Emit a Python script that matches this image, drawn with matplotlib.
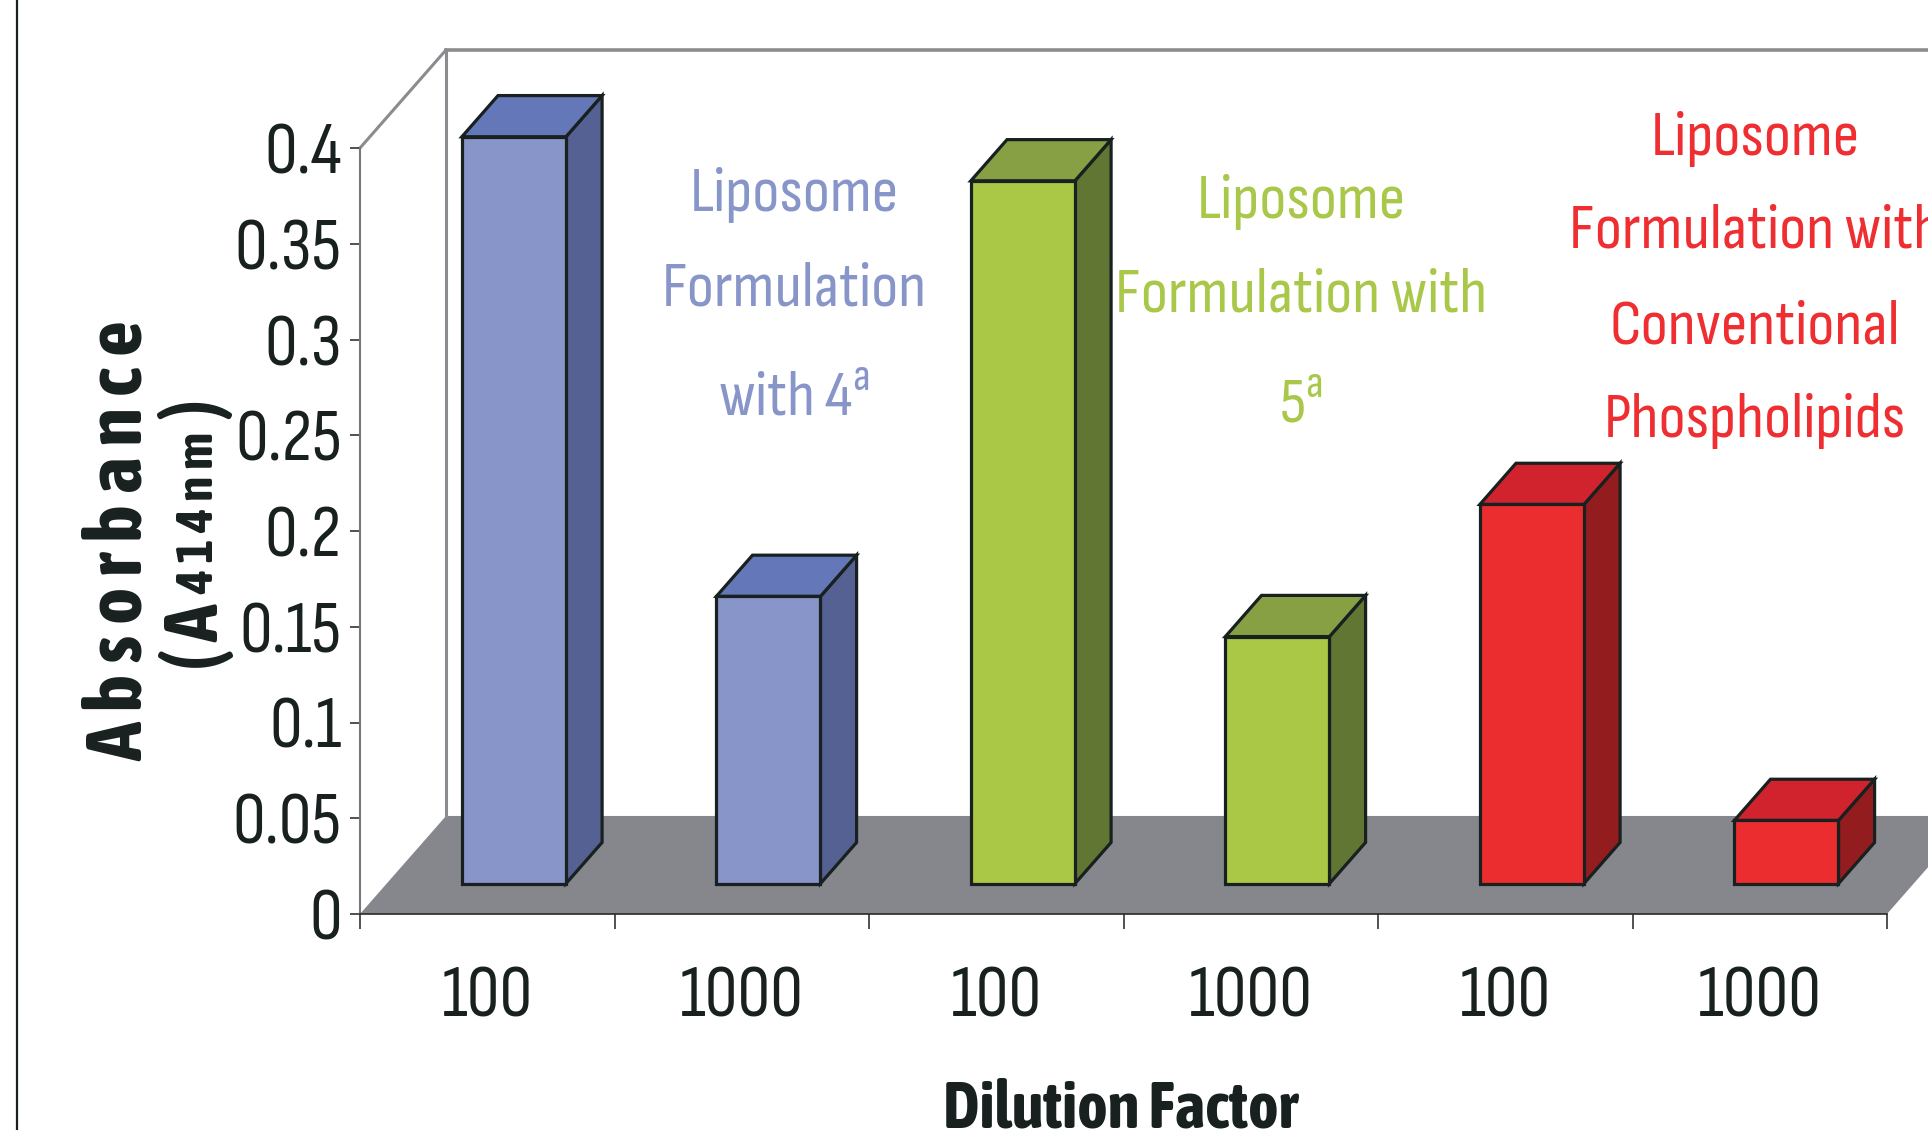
# Absorbance vs dilution factor, 3D-style bar chart (Excel look)

import numpy as np
import matplotlib
matplotlib.use('Agg')
import matplotlib.pyplot as plt
from matplotlib.patches import Polygon
from matplotlib.lines import Line2D

REG = ['Sofia Sans Condensed', 'Roboto Condensed', 'DejaVu Sans']
BOLD = ['Asap Condensed', 'Roboto Condensed', 'DejaVu Sans']
plt.rcParams['font.family'] = REG
plt.rcParams['mathtext.fontset'] = 'custom'
plt.rcParams['mathtext.rm'] = 'Sofia Sans Condensed'

# data
dilution = ['100', '1000', '100', '1000', '100', '1000']
absorbance = [0.39, 0.15, 0.367, 0.129, 0.198, 0.033]
yticks = [0, 0.05, 0.1, 0.15, 0.2, 0.25, 0.3, 0.35, 0.4]
ytick_labels = ['0', '0.05', '0.1', '0.15', '0.2', '0.25', '0.3', '0.35', '0.4']

front_colors = ['#8795c9', '#8795c9', '#aac846', '#aac846', '#ec2d30', '#ec2d30']
top_colors = ['#6377b9', '#6377b9', '#87a044', '#87a044', '#d1232e', '#d1232e']
side_colors = ['#556193', '#556193', '#627634', '#627634', '#931c1f', '#931c1f']

blue_txt = ['Liposome', 'Formulation', r'with 4$^{\mathrm{a}}$']
green_txt = ['Liposome', 'Formulation with', r'5$^{\mathrm{a}}$']
red_txt = ['Liposome', 'Formulation with', 'Conventional', 'Phospholipids']

W, H = 1928, 1130
EDGE = '#182020'
WALL = '#8c8c90'


def fx(x):
    return x / W


def fy(y):
    return 1 - y / H


fig = plt.figure(figsize=(W / 100, H / 100), dpi=100)
ax = fig.add_axes([fx(360), fy(914), (1887 - 360) / W, (914 - 148) / H])
n = len(dilution)
ax.set_xlim(0, n)
ax.set_ylim(0, 0.4)

# depth of the 3D box (data units) and bar placement inside it
dx, dy = 0.338, 0.0512
f0, f1 = 0.31, 0.73
bar_w = 0.409

# floor and walls
ax.add_patch(Polygon([(0, 0), (n, 0), (n + dx, dy), (dx, dy)], closed=True,
                     facecolor='#86878c', edgecolor='none', zorder=1, clip_on=False))
ax.plot([0, dx], [0.4, 0.4 + dy], color=WALL, lw=2.2, zorder=1, clip_on=False)
ax.plot([dx, dx], [dy, 0.4 + dy], color=WALL, lw=2.2, zorder=1, clip_on=False)
ax.plot([dx, n + dx], [0.4 + dy, 0.4 + dy], color=WALL, lw=2.6, zorder=1, clip_on=False)

# bars
x = np.arange(n) + 0.5
xf = x + f0 * dx
ax.bar(xf, absorbance, width=bar_w, bottom=f0 * dy, color=front_colors,
       edgecolor=EDGE, linewidth=2.3, zorder=4, clip_on=False)
ddx, ddy = (f1 - f0) * dx, (f1 - f0) * dy
for i, v in enumerate(absorbance):
    l, r = xf[i] - bar_w / 2, xf[i] + bar_w / 2
    b = f0 * dy
    t = b + v
    ax.add_patch(Polygon([(r, b), (r + ddx, b + ddy), (r + ddx, t + ddy), (r, t)],
                         closed=True, facecolor=side_colors[i], edgecolor=EDGE,
                         lw=2.3, joinstyle='miter', zorder=3, clip_on=False))
    ax.add_patch(Polygon([(l, t), (r, t), (r + ddx, t + ddy), (l + ddx, t + ddy)],
                         closed=True, facecolor=top_colors[i], edgecolor=EDGE,
                         lw=2.3, joinstyle='miter', zorder=3, clip_on=False))

# axes
for s in ['top', 'right']:
    ax.spines[s].set_visible(False)
ax.spines['left'].set_color('#77777b')
ax.spines['left'].set_linewidth(1.5)
ax.spines['bottom'].set_color('#2a2a2a')
ax.spines['bottom'].set_linewidth(1.2)
ax.patch.set_alpha(0)

ax.set_yticks(yticks)
ax.set_yticklabels(ytick_labels)
ax.tick_params(axis='y', length=7, width=1.2, color='#333333', pad=6,
               labelsize=53, labelcolor='#182020')

ax.set_xticks(range(n + 1))
ax.set_xticklabels([])
ax.set_xticks(x, minor=True)
ax.set_xticklabels(dilution, minor=True)
ax.tick_params(axis='x', which='major', length=11, width=1.2, color='#333333')
ax.tick_params(axis='x', which='minor', length=0, pad=74, labelsize=53,
               labelcolor='#182020')
for lbl in ax.get_xticklabels(minor=True):
    lbl.set_va('baseline')

# group labels
for txt, cx, ys, c in [(blue_txt, 794, [211, 305, 415], '#8795c9'),
                       (green_txt, 1301, [218, 312, 422], '#a9c84a'),
                       (red_txt, 1755, [155, 248, 343, 437], '#ee2e31')]:
    for s, y in zip(txt, ys):
        fig.text(fx(cx), fy(y), s, color=c, fontsize=47, ha='center', va='baseline')

# axis titles
fig.text(fx(120), fy(541), 'A b s o r b a n c e', rotation=90, fontsize=57,
         family=BOLD, fontweight='bold', color='#182020', ha='center', va='center')
fig.text(fx(197), fy(637), '( A', rotation=90, fontsize=55,
         family=BOLD, fontweight='bold', color='#182020', ha='center', va='center')
fig.text(fx(199), fy(513), '4 1 4 n m', rotation=90, fontsize=37,
         family=BOLD, fontweight='bold', color='#182020', ha='center', va='center')
fig.text(fx(197), fy(410), ')', rotation=90, fontsize=55,
         family=BOLD, fontweight='bold', color='#182020', ha='center', va='center')
fig.text(fx(1120), fy(1127), 'Dilution Factor', fontsize=47, family=BOLD,
         fontweight='bold', color='#182020', ha='center', va='baseline')

# left frame line
fig.add_artist(Line2D([fx(17), fx(17)], [0, 1], color='#182020', lw=1.6))

fig.savefig('out.png', dpi=100)
